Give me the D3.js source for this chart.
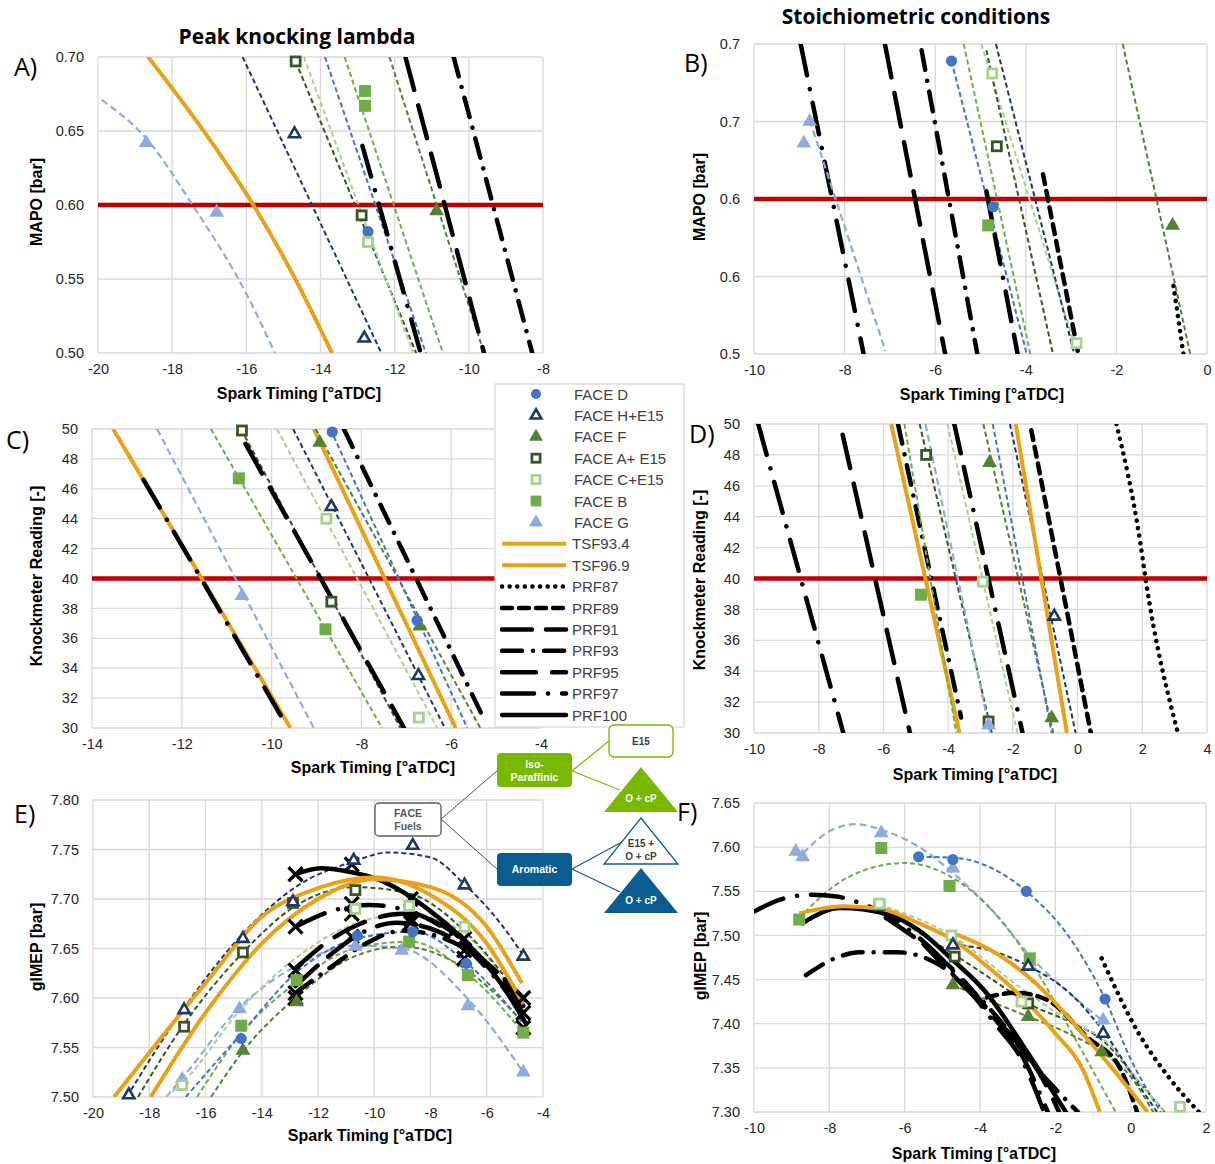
<!DOCTYPE html>
<html>
<head>
<meta charset="utf-8">
<script src="https://cdn.jsdelivr.net/npm/d3@7"></script>
<style>
  body { margin: 0; background: #fff; }
  svg { display: block; }
</style>
</head>
<body>
<div id="chart"></div>
<script>
// ---------------- data ----------------
// tick values / labels
const xTicksA = [-20, -18, -16, -14, -12, -10, -8];
const yTicksA = [0.50, 0.55, 0.60, 0.65, 0.70];
const yLabelsA = ["0.50", "0.55", "0.60", "0.65", "0.70"];
const xTicksB = [-10, -8, -6, -4, -2, 0];
const yTicksB = [0.50, 0.55, 0.60, 0.65, 0.70];
const yLabelsB = ["0.5", "0.6", "0.6", "0.7", "0.7"];
const xTicksC = [-14, -12, -10, -8, -6, -4];
const xTicksD = [-10, -8, -6, -4, -2, 0, 2, 4];
const yTicksCD = [30, 32, 34, 36, 38, 40, 42, 44, 46, 48, 50];
const xTicksE = [-20, -18, -16, -14, -12, -10, -8, -6, -4];
const yTicksE = [7.50, 7.55, 7.60, 7.65, 7.70, 7.75, 7.80];
const xTicksF = [-10, -8, -6, -4, -2, 0, 2];
const yTicksF = [7.30, 7.35, 7.40, 7.45, 7.50, 7.55, 7.60, 7.65];

// legend entries
const fuelNames = ["FACE D", "FACE H+E15", "FACE F", "FACE A+ E15", "FACE C+E15", "FACE B", "FACE G"];
const fuelKeys = ["D", "H", "F", "A", "C", "B", "G"];
const refNames = ["TSF93.4", "TSF96.9", "PRF87", "PRF89", "PRF91", "PRF93", "PRF95", "PRF97", "PRF100"];
const refKeys = ["TSF93", "TSF96", "PRF87", "PRF89", "PRF91", "PRF93", "PRF95", "PRF97", "PRF100"];

// A) MAPO, peak knocking lambda
const linesA = [
  {s: "G", p: [[-19.9, 0.671], [-18.7, 0.645], [-17.45, 0.60], [-16.0, 0.540], [-15.23, 0.50]]},
  {s: "TSF93", p: [[-18.65, 0.70], [-17.15, 0.65], [-15.81, 0.60], [-14.68, 0.55], [-13.69, 0.50]]},
  {s: "H", p: [[-16.1, 0.70], [-12.36, 0.50]]},
  {s: "A", p: [[-14.67, 0.697], [-11.42, 0.50]]},
  {s: "C", p: [[-14.45, 0.70], [-11.5, 0.50]]},
  {s: "D", p: [[-13.88, 0.70], [-11.16, 0.50]]},
  {s: "B", p: [[-13.35, 0.70], [-10.70, 0.50]]},
  {s: "F", p: [[-12.14, 0.70], [-9.59, 0.50]]},
  {s: "PRF97", p: [[-12.87, 0.64], [-11.3, 0.50]]},
  {s: "PRF95", p: [[-11.71, 0.70], [-9.59, 0.50]]},
  {s: "PRF93", p: [[-10.41, 0.70], [-8.29, 0.50]]}
];
const pointsA = [
  {s: "G", p: [[-18.7, 0.642], [-16.8, 0.595]]},
  {s: "H", p: [[-14.7, 0.648], [-12.82, 0.510]]},
  {s: "A", p: [[-14.67, 0.697], [-12.89, 0.593]]},
  {s: "D", p: [[-12.72, 0.582]]},
  {s: "C", p: [[-12.72, 0.575]]},
  {s: "B", p: [[-12.8, 0.677], [-12.8, 0.667]]},
  {s: "F", p: [[-10.87, 0.596]]}
];

// B) MAPO, stoichiometric
const linesB = [
  {s: "PRF97", p: [[-8.97, 0.70], [-7.58, 0.50]]},
  {s: "G", p: [[-8.77, 0.651], [-7.10, 0.502]]},
  {s: "PRF95", p: [[-7.11, 0.70], [-5.78, 0.50]]},
  {s: "PRF93", p: [[-6.30, 0.696], [-5.07, 0.50]]},
  {s: "D", p: [[-5.64, 0.689], [-3.98, 0.50]]},
  {s: "PRF91", p: [[-4.87, 0.605], [-4.18, 0.50]]},
  {s: "B", p: [[-5.37, 0.70], [-3.90, 0.50]]},
  {s: "C", p: [[-4.98, 0.70], [-2.86, 0.50]]},
  {s: "A", p: [[-4.87, 0.696], [-3.40, 0.50]]},
  {s: "H", p: [[-4.66, 0.70], [-2.93, 0.50]]},
  {s: "PRF89", p: [[-3.62, 0.616], [-2.84, 0.50]]},
  {s: "F", p: [[-1.86, 0.70], [-0.37, 0.50]]},
  {s: "PRF87", p: [[-0.74, 0.544], [-0.52, 0.50]]}
];
const pointsB = [
  {s: "G", p: [[-8.77, 0.650], [-8.90, 0.636]]},
  {s: "D", p: [[-5.64, 0.689], [-4.72, 0.595]]},
  {s: "C", p: [[-4.74, 0.681], [-2.88, 0.507]]},
  {s: "A", p: [[-4.64, 0.634]]},
  {s: "B", p: [[-4.83, 0.583]]},
  {s: "F", p: [[-0.76, 0.583]]}
];

// C) knockmeter, peak knocking lambda
const linesC = [
  {s: "TSF93", p: [[-13.53, 50], [-9.58, 30]]},
  {s: "PRF97", p: [[-12.85, 46.6], [-9.80, 30.85]]},
  {s: "G", p: [[-12.55, 50], [-9.06, 30]]},
  {s: "B", p: [[-11.35, 50], [-7.54, 30]]},
  {s: "A", p: [[-10.68, 50], [-7.13, 30]]},
  {s: "PRF95", p: [[-10.58, 49], [-7.05, 30]]},
  {s: "C", p: [[-9.88, 50], [-6.31, 30]]},
  {s: "H", p: [[-9.52, 50], [-6.14, 30]]},
  {s: "TSF96", p: [[-9.06, 50], [-5.90, 30]]},
  {s: "F", p: [[-9.02, 50], [-5.35, 30]]},
  {s: "D", p: [[-8.69, 50], [-5.64, 30]]},
  {s: "PRF93", p: [[-8.39, 50], [-5.27, 30.6]]}
];
const pointsC = [
  {s: "A", p: [[-10.66, 49.9], [-8.67, 38.45]]},
  {s: "B", p: [[-10.73, 46.7], [-8.80, 36.6]]},
  {s: "G", p: [[-10.66, 38.85]]},
  {s: "C", p: [[-8.78, 44.0], [-6.72, 30.7]]},
  {s: "H", p: [[-8.67, 44.8], [-6.73, 33.5]]},
  {s: "F", p: [[-8.93, 49.1], [-6.70, 36.8]]},
  {s: "D", p: [[-8.65, 49.8], [-6.76, 37.2]]}
];

// D) knockmeter, stoichiometric
const linesD = [
  {s: "PRF97", p: [[-9.87, 50], [-7.24, 30]]},
  {s: "PRF95", p: [[-7.26, 49.3], [-5.18, 30]]},
  {s: "TSF93", p: [[-5.76, 50], [-3.65, 30]]},
  {s: "PRF93", p: [[-5.55, 50], [-3.6, 31]]},
  {s: "B", p: [[-5.35, 50], [-3.75, 30]]},
  {s: "A", p: [[-4.88, 50], [-2.65, 30]]},
  {s: "G", p: [[-4.70, 50], [-2.70, 30]]},
  {s: "C", p: [[-4.02, 50], [-1.86, 30]]},
  {s: "PRF91", p: [[-3.81, 50], [-1.70, 30]]},
  {s: "F", p: [[-2.91, 50], [-0.75, 30]]},
  {s: "D", p: [[-2.62, 50], [-0.80, 30]]},
  {s: "H", p: [[-2.09, 50], [-0.06, 30]]},
  {s: "TSF96", p: [[-1.91, 50], [-0.33, 30]]},
  {s: "PRF89", p: [[-1.43, 49.6], [0.41, 30]]},
  {s: "PRF87", p: [[1.20, 50], [1.94, 42.3], [2.10, 40], [3.10, 30]]}
];
const pointsD = [
  {s: "A", p: [[-4.68, 48.0], [-2.75, 30.75]]},
  {s: "G", p: [[-2.75, 30.5]]},
  {s: "C", p: [[-2.93, 39.8]]},
  {s: "B", p: [[-4.84, 38.95]]},
  {s: "F", p: [[-2.72, 47.5], [-0.80, 30.97]]},
  {s: "H", p: [[-0.72, 37.55]]}
];

// E) gIMEP, peak knocking lambda
const linesE = [
  {s: "G", p: [[-17.4, 7.50], [-16.8, 7.52], [-14.8, 7.59], [-12.8, 7.632], [-10.7, 7.653], [-9.0, 7.65], [-6.7, 7.60], [-4.7, 7.525]]},
  {s: "F", p: [[-15.8, 7.50], [-14.7, 7.545], [-12.8, 7.60], [-10.7, 7.642], [-9.0, 7.652], [-6.8, 7.63], [-4.7, 7.575]]},
  {s: "B", p: [[-16.3, 7.50], [-14.7, 7.565], [-12.8, 7.615], [-10.7, 7.65], [-8.7, 7.657], [-6.7, 7.625], [-4.7, 7.565]]},
  {s: "D", p: [[-16.7, 7.50], [-14.7, 7.565], [-12.8, 7.625], [-10.6, 7.66], [-8.6, 7.667], [-6.7, 7.635], [-4.7, 7.574]]},
  {s: "C", p: [[-17.4, 7.50], [-16.8, 7.515], [-14.7, 7.59], [-12.8, 7.64], [-10.7, 7.675], [-8.7, 7.685], [-6.8, 7.665], [-4.7, 7.59]]},
  {s: "A", p: [[-18.4, 7.50], [-16.8, 7.572], [-14.7, 7.645], [-12.8, 7.693], [-10.7, 7.712], [-8.7, 7.705], [-6.8, 7.668], [-4.7, 7.597]]},
  {s: "H", p: [[-18.8, 7.50], [-16.76, 7.59], [-14.67, 7.665], [-12.8, 7.712], [-10.73, 7.738], [-9.5, 7.747], [-8.0, 7.742], [-6.8, 7.715], [-5.5, 7.675], [-4.7, 7.643]]},
  {s: "PRF93", p: [[-12.8, 7.605], [-11.5, 7.632], [-10.3, 7.655], [-9.0, 7.668], [-7.5, 7.66], [-6.0, 7.635], [-4.7, 7.60]]},
  {s: "PRF91", p: [[-12.8, 7.612], [-11.5, 7.645], [-10.5, 7.665], [-9.2, 7.676], [-7.8, 7.668], [-6.2, 7.64], [-4.7, 7.598]]},
  {s: "PRF95", p: [[-12.8, 7.630], [-11.6, 7.658], [-10.5, 7.675], [-9.0, 7.685], [-7.5, 7.672], [-6.0, 7.635], [-4.7, 7.592]]},
  {s: "PRF97", p: [[-12.8, 7.672], [-11.5, 7.688], [-10.2, 7.694], [-8.8, 7.688], [-7.5, 7.67], [-6.0, 7.63], [-4.7, 7.585]]},
  {s: "PRF100", p: [[-12.8, 7.725], [-11.9, 7.731], [-10.8, 7.727], [-9.8, 7.719], [-8.06, 7.689], [-6.8, 7.658], [-5.5, 7.615], [-4.6, 7.574]]},
  {s: "TSF93", p: [[-19.25, 7.50], [-16.0, 7.615], [-14.0, 7.682], [-12.0, 7.711], [-10.0, 7.722], [-8.0, 7.704], [-6.0, 7.655], [-4.7, 7.594]]},
  {s: "TSF96", p: [[-17.95, 7.50], [-16.0, 7.585], [-14.0, 7.655], [-12.0, 7.70], [-10.0, 7.72], [-8.0, 7.712], [-6.0, 7.672], [-4.75, 7.615]]}
];
const pointsE = [
  {s: "G", p: [[-16.83, 7.518], [-14.79, 7.589], [-10.67, 7.652], [-9.02, 7.648], [-6.67, 7.592], [-4.70, 7.525]]},
  {s: "F", p: [[-14.67, 7.547], [-12.76, 7.596]]},
  {s: "B", p: [[-14.73, 7.572], [-12.76, 7.618], [-8.76, 7.657], [-6.67, 7.623], [-4.70, 7.565]]},
  {s: "D", p: [[-14.73, 7.559], [-10.6, 7.663], [-8.63, 7.667], [-6.73, 7.635]]},
  {s: "C", p: [[-16.83, 7.512], [-10.67, 7.69], [-8.76, 7.693], [-6.79, 7.672]]},
  {s: "A", p: [[-16.76, 7.571], [-14.67, 7.646], [-12.89, 7.696], [-10.67, 7.709]]},
  {s: "H", p: [[-18.73, 7.502], [-16.76, 7.588], [-14.67, 7.660], [-12.89, 7.697], [-10.73, 7.739], [-8.63, 7.754], [-6.79, 7.714], [-4.70, 7.642]]}
];
const prfPointsE = [
  [-12.8, 7.725], [-12.8, 7.672], [-12.8, 7.628], [-12.8, 7.605], [-12.8, 7.60],
  [-10.8, 7.735], [-10.8, 7.695], [-10.8, 7.685], [-10.8, 7.662],
  [-8.7, 7.70], [-8.7, 7.68], [-8.7, 7.676],
  [-6.8, 7.66], [-6.8, 7.648], [-6.8, 7.64],
  [-4.7, 7.60], [-4.7, 7.585], [-4.7, 7.57]
];

// F) gIMEP, stoichiometric
const linesF = [
  {s: "G", p: [[-8.7, 7.593], [-8.0, 7.618], [-7.3, 7.626], [-6.5, 7.618], [-5.5, 7.597], [-4.7, 7.57], [-3.5, 7.52], [-2.7, 7.478], [-1.5, 7.43], [-0.7, 7.402]]},
  {s: "D", p: [[-5.63, 7.589], [-4.7, 7.588], [-3.5, 7.572], [-2.77, 7.550], [-1.5, 7.49], [-0.68, 7.428], [0.0, 7.36], [0.8, 7.30]]},
  {s: "B", p: [[-8.8, 7.52], [-7.5, 7.566], [-6.0, 7.582], [-4.8, 7.567], [-3.5, 7.52], [-2.5, 7.46], [-1.5, 7.385], [-0.4, 7.30]]},
  {s: "A", p: [[-6.67, 7.534], [-5.5, 7.50], [-4.67, 7.478], [-3.5, 7.445], [-2.72, 7.423], [-1.5, 7.40], [-0.77, 7.382], [0.3, 7.33], [0.9, 7.30]]},
  {s: "C", p: [[-6.67, 7.535], [-4.76, 7.50], [-2.9, 7.44], [-1.5, 7.40], [-0.73, 7.383], [0.3, 7.33], [0.9, 7.30]]},
  {s: "H", p: [[-4.72, 7.49], [-3.5, 7.48], [-2.7, 7.465], [-1.5, 7.43], [-0.7, 7.39], [0.3, 7.325], [0.7, 7.30]]},
  {s: "F", p: [[-4.72, 7.444], [-3.7, 7.425], [-2.72, 7.408], [-1.7, 7.39], [-0.77, 7.368], [0.0, 7.34], [0.6, 7.30]]},
  {s: "PRF97", p: [[-10.0, 7.527], [-9.35, 7.540], [-8.53, 7.546], [-7.8, 7.544], [-7.27, 7.538], [-6.0, 7.51], [-4.72, 7.46], [-3.6, 7.40], [-2.9, 7.36], [-2.3, 7.30]]},
  {s: "PRF95", p: [[-6.5, 7.52], [-5.5, 7.49], [-4.5, 7.452], [-3.63, 7.408], [-2.91, 7.374], [-2.3, 7.335], [-1.9, 7.30]]},
  {s: "PRF93", p: [[-8.62, 7.455], [-7.74, 7.476], [-7.2, 7.481], [-6.2, 7.481], [-5.22, 7.47], [-4.4, 7.445], [-3.5, 7.405], [-2.65, 7.357], [-2.04, 7.328], [-1.4, 7.30]]},
  {s: "PRF91", p: [[-5.5, 7.49], [-4.6, 7.45], [-3.7, 7.41], [-2.9, 7.365], [-2.2, 7.30]]},
  {s: "PRF89", p: [[-3.81, 7.43], [-3.04, 7.435], [-2.22, 7.427], [-1.16, 7.385], [-0.26, 7.348], [0.17, 7.30]]},
  {s: "PRF87", p: [[-0.77, 7.474], [0.2, 7.39], [1.0, 7.34], [1.81, 7.30]]},
  {s: "PRF100", p: [[-8.71, 7.514], [-7.71, 7.531], [-6.53, 7.525], [-5.63, 7.506], [-4.72, 7.472], [-3.81, 7.434], [-2.9, 7.378], [-1.72, 7.30]]},
  {s: "TSF93", p: [[-8.8, 7.525], [-7.62, 7.533], [-6.62, 7.530], [-5.63, 7.514], [-4.72, 7.495], [-3.81, 7.465], [-2.91, 7.431], [-2.0, 7.389], [-1.27, 7.348], [-0.82, 7.30]]},
  {s: "TSF96", p: [[-4.72, 7.503], [-3.5, 7.478], [-2.5, 7.445], [-1.5, 7.40], [-0.5, 7.35], [0.45, 7.30]]}
];
const pointsF = [
  {s: "G", p: [[-8.89, 7.595], [-8.71, 7.589], [-6.62, 7.616], [-4.72, 7.576], [-2.68, 7.47], [-0.73, 7.404]]},
  {s: "D", p: [[-5.63, 7.589], [-4.72, 7.586], [-2.77, 7.550], [-0.68, 7.428]]},
  {s: "B", p: [[-8.8, 7.518], [-6.62, 7.599], [-4.81, 7.556], [-2.68, 7.474]]},
  {s: "A", p: [[-6.67, 7.534], [-4.67, 7.476], [-2.72, 7.423]]},
  {s: "C", p: [[-6.67, 7.536], [-4.76, 7.50], [-2.9, 7.425], [1.31, 7.306]]},
  {s: "H", p: [[-4.72, 7.489], [-2.72, 7.465], [-0.73, 7.389]]},
  {s: "F", p: [[-4.72, 7.444], [-2.72, 7.408], [-0.77, 7.368]]}
];

// ---------------- styles ----------------
const fuelColor = {D: "#4472C4", H: "#1F3864", F: "#548235", A: "#375623", C: "#A9D18E", B: "#70AD47", G: "#8FAADC"};
const fuelMarker = {D: "circle", H: "tri-open", F: "tri", A: "sq-open", C: "sq-open", B: "sq", G: "tri"};
const orange = "#E9A11A";
const prfDash = {
  PRF87: "0.1 7.5", PRF89: "10 7", PRF91: "30 14 30 14 0.1 14", PRF93: "20 11 0.1 11",
  PRF95: "34 16", PRF97: "32 14 0.1 14", PRF100: null
};

function lineStyle(sel, key) {
  if (fuelColor[key]) {
    sel.attr("stroke", fuelColor[key])
      .attr("stroke-width", key === "G" ? 2.2 : 2)
      .attr("stroke-dasharray", key === "G" ? "7 4" : "5 3");
  } else if (key.startsWith("TSF")) {
    sel.attr("stroke", orange).attr("stroke-width", 4);
  } else {
    sel.attr("stroke", "#000").attr("stroke-width", 4.5)
      .attr("stroke-linecap", "round")
      .attr("stroke-dasharray", prfDash[key]);
  }
  return sel.attr("fill", "none");
}

function drawMarker(g, key, cx, cy, big) {
  const c = fuelColor[key];
  const m = fuelMarker[key];
  const k = big ? 1.0 : 0.9;
  if (m === "circle") {
    g.append("circle").attr("cx", cx).attr("cy", cy).attr("r", 5.6 * k).attr("fill", c);
  } else if (m === "tri" || m === "tri-open") {
    const open = m === "tri-open";
    const sym = d3.symbol().type(d3.symbolTriangle).size(open ? 55 * k : 95 * k)();
    g.append("path").attr("d", sym).attr("transform", `translate(${cx},${cy})`)
      .attr("fill", open ? "#fff" : c)
      .attr("stroke", open ? c : "none").attr("stroke-width", 2.6);
  } else {
    const open = m === "sq-open";
    const s = open ? 9 * k : 12 * k;
    g.append("rect").attr("x", cx - s / 2).attr("y", cy - s / 2).attr("width", s).attr("height", s)
      .attr("fill", open ? "#fff" : c)
      .attr("stroke", open ? c : "none").attr("stroke-width", 2.8);
  }
}

// ---------------- svg ----------------
const W = 1215, H = 1164;
const svg = d3.select("#chart").append("svg")
  .attr("width", W).attr("height", H)
  .style("font-family", "'Liberation Sans', Arial, sans-serif");

function drawPanel(p) {
  const x = d3.scaleLinear().domain(p.xDom).range(p.xRange);
  const y = d3.scaleLinear().domain(p.yDom).range(p.yRange);
  const g = svg.append("g");

  g.append("clipPath").attr("id", "clip" + p.id).append("rect")
    .attr("x", p.xRange[0]).attr("y", p.yRange[1])
    .attr("width", p.xRange[1] - p.xRange[0]).attr("height", p.yRange[0] - p.yRange[1]);

  // grid
  g.append("g").selectAll("line").data(p.xTicks).join("line")
    .attr("x1", d => x(d)).attr("x2", d => x(d))
    .attr("y1", p.yRange[0]).attr("y2", p.yRange[1])
    .attr("stroke", "#d9d9d9").attr("stroke-width", 1.3);
  g.append("g").selectAll("line").data(p.yTicks).join("line")
    .attr("x1", p.xRange[0]).attr("x2", p.xRange[1])
    .attr("y1", d => y(d)).attr("y2", d => y(d))
    .attr("stroke", "#d9d9d9").attr("stroke-width", 1.3);

  // axes (labels only), plain hyphen for negatives
  const xa = g.append("g").attr("transform", `translate(0,${p.yRange[0]})`)
    .call(d3.axisBottom(x).tickValues(p.xTicks).tickSize(0).tickPadding(11).tickFormat(d => String(d)));
  const ya = g.append("g").attr("transform", `translate(${p.xRange[0]},0)`)
    .call(d3.axisLeft(y).tickValues(p.yTicks).tickSize(0).tickPadding(14)
      .tickFormat((d, i) => p.yLabels ? p.yLabels[i] : String(d)));
  [xa, ya].forEach(a => {
    a.select(".domain").remove();
    a.attr("font-family", null).attr("font-size", null);
    a.selectAll("text").attr("font-size", 14.5).attr("fill", "#262626");
  });

  // red threshold
  if (p.red != null) {
    g.append("line").attr("x1", p.xRange[0]).attr("x2", p.xRange[1])
      .attr("y1", y(p.red)).attr("y2", y(p.red))
      .attr("stroke", "#C00000").attr("stroke-width", 4.5);
  }

  const plot = g.append("g").attr("clip-path", `url(#clip${p.id})`);
  const line = d3.line().x(d => x(d[0])).y(d => y(d[1])).curve(d3.curveMonotoneX);
  p.lines.forEach(l => {
    plot.append("path").attr("d", line(l.p)).call(lineStyle, l.s);
  });

  // PRF cross markers
  (p.prfPoints || []).forEach(d => {
    const cx = x(d[0]), cy = y(d[1]);
    plot.append("path").attr("d", `M${cx - 7},${cy - 7}L${cx + 7},${cy + 7}M${cx - 7},${cy + 7}L${cx + 7},${cy - 7}`)
      .attr("stroke", "#000").attr("stroke-width", 3.2);
  });

  const mk = g.append("g");
  p.points.forEach(s => {
    s.p.forEach(d => drawMarker(mk, s.s, x(d[0]), y(d[1]), true));
  });

  // axis titles
  g.append("text").attr("x", p.xLabelPos[0]).attr("y", p.xLabelPos[1])
    .attr("text-anchor", "middle").attr("font-weight", "bold").attr("font-size", 16)
    .text("Spark Timing [°aTDC]");
  g.append("text").attr("transform", `translate(${p.yLabelPos[0]},${p.yLabelPos[1]}) rotate(-90)`)
    .attr("text-anchor", "middle").attr("font-weight", "bold").attr("font-size", 16)
    .text(p.yLabel);

  // panel letter
  g.append("text").attr("x", p.letterPos[0]).attr("y", p.letterPos[1])
    .attr("font-family", "'Open Sans', 'Noto Sans', sans-serif").attr("font-size", 25)
    .text(p.id + ")");
}

drawPanel({id: "A", xDom: [-20, -8], xRange: [98, 543], yDom: [0.5, 0.7], yRange: [353, 57],
  xTicks: xTicksA, yTicks: yTicksA, yLabels: yLabelsA, red: 0.60, lines: linesA, points: pointsA,
  xLabelPos: [299, 399], yLabelPos: [42, 202], yLabel: "MAPO [bar]", letterPos: [14, 76]});
drawPanel({id: "B", xDom: [-10, 0], xRange: [754, 1207], yDom: [0.5, 0.7], yRange: [354, 44],
  xTicks: xTicksB, yTicks: yTicksB, yLabels: yLabelsB, red: 0.60, lines: linesB, points: pointsB,
  xLabelPos: [982, 400], yLabelPos: [705, 197], yLabel: "MAPO [bar]", letterPos: [684, 72]});
drawPanel({id: "C", xDom: [-14, -4], xRange: [92, 541], yDom: [30, 50], yRange: [728, 429],
  xTicks: xTicksC, yTicks: yTicksCD, red: 40, lines: linesC, points: pointsC,
  xLabelPos: [373, 773], yLabelPos: [42, 576], yLabel: "Knockmeter Reading [-]", letterPos: [6, 449]});
drawPanel({id: "D", xDom: [-10, 4], xRange: [754, 1207], yDom: [30, 50], yRange: [733, 424],
  xTicks: xTicksD, yTicks: yTicksCD, red: 40, lines: linesD, points: pointsD,
  xLabelPos: [975, 780], yLabelPos: [705, 580], yLabel: "Knockmeter Reading [-]", letterPos: [689, 443]});
drawPanel({id: "E", xDom: [-20, -4], xRange: [93, 543], yDom: [7.5, 7.8], yRange: [1097, 800],
  xTicks: xTicksE, yTicks: yTicksE, yLabels: yTicksE.map(d => d.toFixed(2)), lines: linesE, points: pointsE,
  prfPoints: prfPointsE,
  xLabelPos: [370, 1141], yLabelPos: [42, 947], yLabel: "gIMEP [bar]", letterPos: [14, 823]});
drawPanel({id: "F", xDom: [-10, 2], xRange: [754, 1206], yDom: [7.3, 7.65], yRange: [1112, 803],
  xTicks: xTicksF, yTicks: yTicksF, yLabels: yTicksF.map(d => d.toFixed(2)), lines: linesF, points: pointsF,
  xLabelPos: [974, 1159], yLabelPos: [706, 956], yLabel: "gIMEP [bar]", letterPos: [677, 821]});

// column titles
svg.append("text").attr("x", 297).attr("y", 44).attr("text-anchor", "middle")
  .attr("font-family", "'Open Sans', 'Noto Sans', sans-serif").attr("font-weight", "bold").attr("font-size", 21)
  .text("Peak knocking lambda");
svg.append("text").attr("x", 916).attr("y", 24).attr("text-anchor", "middle")
  .attr("font-family", "'Open Sans', 'Noto Sans', sans-serif").attr("font-weight", "bold").attr("font-size", 21)
  .text("Stoichiometric conditions");

// ---------------- legend ----------------
const lg = svg.append("g");
lg.append("rect").attr("x", 495).attr("y", 384).attr("width", 189).attr("height", 343)
  .attr("fill", "#fff").attr("stroke", "#d9d9d9").attr("stroke-width", 1.3);
const rowY = i => 394 + i * 21.4;
fuelKeys.forEach((k, i) => {
  drawMarker(lg, k, 536, rowY(i), false);
  lg.append("text").attr("x", 574).attr("y", rowY(i) + 5.5).attr("font-size", 15).attr("fill", "#404040")
    .text(fuelNames[i]);
});
refKeys.forEach((k, j) => {
  const i = j + fuelKeys.length;
  lg.append("line").attr("x1", 502).attr("x2", 566).attr("y1", rowY(i)).attr("y2", rowY(i)).call(lineStyle, k);
  lg.append("text").attr("x", 572).attr("y", rowY(i) + 5.5).attr("font-size", 15).attr("fill", "#404040")
    .text(refNames[j]);
});

// ---------------- fuel tree ----------------
const tg = svg.append("g").attr("font-weight", "bold");
const green = "#78B800", blue = "#0B5C91";
tg.append("line").attr("x1", 441).attr("y1", 819).attr("x2", 497).attr("y2", 771).attr("stroke", "#555").attr("stroke-width", 1);
tg.append("line").attr("x1", 441).attr("y1", 819).attr("x2", 497).attr("y2", 869).attr("stroke", "#555").attr("stroke-width", 1);
tg.append("line").attr("x1", 572).attr("y1", 771).attr("x2", 609).attr("y2", 741).attr("stroke", green).attr("stroke-width", 1.2);
tg.append("line").attr("x1", 572).attr("y1", 771).attr("x2", 620).attr("y2", 790).attr("stroke", green).attr("stroke-width", 1.2);
tg.append("line").attr("x1", 572).attr("y1", 869).attr("x2", 622).attr("y2", 842).attr("stroke", blue).attr("stroke-width", 1.2);
tg.append("line").attr("x1", 572).attr("y1", 869).attr("x2", 620).attr("y2", 892).attr("stroke", blue).attr("stroke-width", 1.2);

tg.append("rect").attr("x", 375).attr("y", 803).attr("width", 66).attr("height", 33).attr("rx", 4)
  .attr("fill", "#fff").attr("stroke", "#595959").attr("stroke-width", 1.3);
tg.append("text").attr("x", 408).attr("y", 817).attr("text-anchor", "middle").attr("font-size", 10.5).attr("fill", "#595959").text("FACE");
tg.append("text").attr("x", 408).attr("y", 830).attr("text-anchor", "middle").attr("font-size", 10.5).attr("fill", "#595959").text("Fuels");

tg.append("rect").attr("x", 497).attr("y", 753).attr("width", 75).attr("height", 34).attr("rx", 4).attr("fill", green);
tg.append("text").attr("x", 534.5).attr("y", 768).attr("text-anchor", "middle").attr("font-size", 10.5).attr("fill", "#fff").text("Iso-");
tg.append("text").attr("x", 534.5).attr("y", 781).attr("text-anchor", "middle").attr("font-size", 10.5).attr("fill", "#fff").text("Paraffinic");

tg.append("rect").attr("x", 497).attr("y", 853).attr("width", 75).attr("height", 33).attr("rx", 4).attr("fill", blue);
tg.append("text").attr("x", 534.5).attr("y", 873).attr("text-anchor", "middle").attr("font-size", 10.5).attr("fill", "#fff").text("Aromatic");

tg.append("rect").attr("x", 609).attr("y", 725).attr("width", 64).attr("height", 32).attr("rx", 5)
  .attr("fill", "#fff").attr("stroke", green).attr("stroke-width", 1.3);
tg.append("text").attr("x", 641).attr("y", 745).attr("text-anchor", "middle").attr("font-size", 10).attr("fill", "#404040").text("E15");

tg.append("path").attr("d", "M641,767L678,812L604,812Z").attr("fill", green);
tg.append("text").attr("x", 641).attr("y", 802).attr("text-anchor", "middle").attr("font-size", 10).attr("fill", "#fff").text("O + cP");

tg.append("path").attr("d", "M641,818L678,864L604,864Z").attr("fill", "#fff").attr("stroke", blue).attr("stroke-width", 1.3);
tg.append("text").attr("x", 641).attr("y", 847).attr("text-anchor", "middle").attr("font-size", 10).attr("fill", "#404040").text("E15 +");
tg.append("text").attr("x", 641).attr("y", 860).attr("text-anchor", "middle").attr("font-size", 10).attr("fill", "#404040").text("O + cP");

tg.append("path").attr("d", "M641,868L678,913L604,913Z").attr("fill", blue);
tg.append("text").attr("x", 641).attr("y", 904).attr("text-anchor", "middle").attr("font-size", 10).attr("fill", "#fff").text("O + cP");
</script>
</body>
</html>
